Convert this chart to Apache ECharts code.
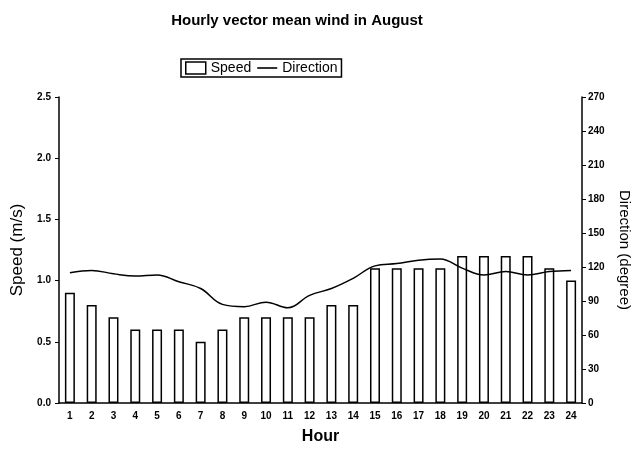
<!DOCTYPE html>
<html>
<head>
<meta charset="utf-8">
<script src="https://cdn.jsdelivr.net/npm/echarts@6/dist/echarts.min.js"></script>
<style>
  html, body { margin: 0; padding: 0; background: #fff; }
  #chart { width: 640px; height: 453px; }
</style>
</head>
<body>
<div id="chart"></div>
<script>
// 数据
const hours = ['1','2','3','4','5','6','7','8','9','10','11','12','13','14','15','16','17','18','19','20','21','22','23','24']
const speed = [0.9, 0.8, 0.7, 0.6, 0.6, 0.6, 0.5, 0.6, 0.7, 0.7, 0.7, 0.7, 0.8, 0.8, 1.1, 1.1, 1.1, 1.1, 1.2, 1.2, 1.2, 1.2, 1.1, 1.0]
const direction = [115, 117, 114, 112, 113, 107, 101, 87, 85, 89, 84, 95, 101, 110, 121, 123, 126, 127, 119, 113, 116, 113, 116, 117]

const font = '"Liberation Sans", Arial, sans-serif'
const chart = echarts.init(document.getElementById('chart'))

chart.setOption({
  animation: false,
  backgroundColor: '#fff',
  title: {
    text: 'Hourly vector mean wind in August',
    left: 292,
    textAlign: 'center',
    top: 8,
    textStyle: { fontFamily: font, fontSize: 15, fontWeight: 'bold', color: '#000' }
  },
  legend: {
    top: 59,
    left: 181,
    padding: [2, 4],
    borderColor: '#000',
    borderWidth: 1.5,
    itemGap: 6,
    itemWidth: 20,
    itemHeight: 12,
    textStyle: { fontFamily: font, fontSize: 14, color: '#000' },
    data: [
      { name: 'Speed', icon: 'rect', itemStyle: { color: '#fff', borderColor: '#000', borderWidth: 1.5 } },
      { name: 'Direction', icon: 'path://M0,0 H20 V1.6 H0 Z', itemStyle: { color: '#000' } }
    ]
  },
  grid: { left: 59, right: 58, top: 97, bottom: 50, containLabel: false, outerBoundsMode: 'none' },
  xAxis: {
    type: 'category',
    data: hours,
    name: 'Hour',
    nameLocation: 'middle',
    nameGap: 26,
    nameTextStyle: { fontFamily: font, fontSize: 16, fontWeight: 'bold', color: '#000' },
    axisLine: { lineStyle: { color: '#000', width: 1.5 } },
    axisTick: { length: 4, lineStyle: { color: '#000' } },
    axisLabel: { fontFamily: font, fontSize: 10, fontWeight: 'bold', color: '#000', margin: 8 }
  },
  yAxis: [
    {
      type: 'value',
      min: 0,
      max: 2.5,
      interval: 0.5,
      name: 'Speed (m/s)',
      nameLocation: 'middle',
      nameGap: 33,
      nameTextStyle: { fontFamily: font, fontSize: 17, color: '#000' },
      axisLine: { show: true, lineStyle: { color: '#000', width: 1.5 } },
      axisTick: { show: true, length: 4, lineStyle: { color: '#000' } },
      axisLabel: { fontFamily: font, fontSize: 10, fontWeight: 'bold', color: '#000', formatter: v => v.toFixed(1) },
      splitLine: { show: false }
    },
    {
      type: 'value',
      position: 'right',
      min: 0,
      max: 270,
      interval: 30,
      name: 'Direction (degree)',
      nameLocation: 'middle',
      nameGap: 35,
      nameRotate: -90,
      nameTextStyle: { fontFamily: font, fontSize: 15, color: '#000' },
      axisLine: { show: true, lineStyle: { color: '#000', width: 1.5 } },
      axisTick: { show: true, length: 4, lineStyle: { color: '#000' } },
      axisLabel: { fontFamily: font, fontSize: 10, fontWeight: 'bold', color: '#000', margin: 6 },
      splitLine: { show: false }
    }
  ],
  series: [
    {
      name: 'Speed',
      type: 'bar',
      data: speed,
      barWidth: 10,
      itemStyle: { color: '#fff', borderColor: '#000', borderWidth: 1.5 }
    },
    {
      name: 'Direction',
      type: 'line',
      yAxisIndex: 1,
      data: direction,
      smooth: 0.4,
      symbol: 'none',
      itemStyle: { color: '#000' },
      lineStyle: { color: '#000', width: 1.5 }
    }
  ]
})
</script>
</body>
</html>
